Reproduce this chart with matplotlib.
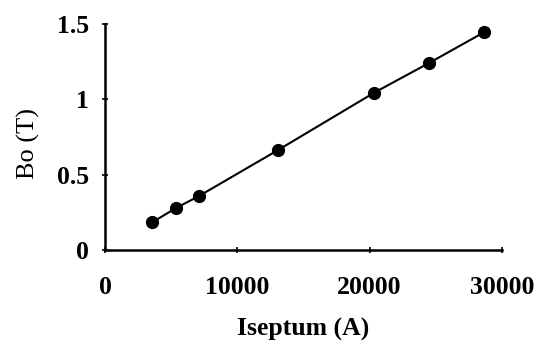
import matplotlib
matplotlib.use("Agg")
import matplotlib.pyplot as plt

# data
current = [3575, 5340, 7105, 13100, 20360, 24470, 28670]
field = [0.184, 0.277, 0.358, 0.664, 1.044, 1.239, 1.445]
xticks = [0, 10000, 20000, 30000]
yticks = [0, 0.5, 1, 1.5]
yticklabels = ["0", "0.5", "1", "1.5"]

plt.rcParams['font.family'] = ['Liberation Serif', 'DejaVu Serif']

fig = plt.figure(figsize=(5.39, 3.41), dpi=100)
ax = fig.add_axes([0.195, 0.267, 0.736, 0.663])

ax.plot(current, field, color='black', linewidth=1.5, marker='o',
        markersize=8.5, markerfacecolor='black', markeredgecolor='black')

ax.set_xlim(0, 30000)
ax.set_ylim(0, 1.5)
ax.set_xticks(xticks)
ax.set_xticklabels([str(t) for t in xticks], fontsize=18.5, fontweight='bold')
ax.set_yticks(yticks)
ax.set_yticklabels(yticklabels, fontsize=18.5, fontweight='bold')
ax.tick_params(direction='inout', length=5, width=1.2, pad=9)
ax.tick_params(axis='x', pad=16)

for s in ['top', 'right']:
    ax.spines[s].set_visible(False)
for s in ['left', 'bottom']:
    ax.spines[s].set_linewidth(1.8)

ax.set_xlabel('Iseptum (A)', fontsize=18.5, fontweight='bold', labelpad=14)
ax.set_ylabel('Bo (T)', fontsize=19)
ax.yaxis.set_label_coords(-0.165, 0.47)

fig.savefig('out.png', dpi=100)
